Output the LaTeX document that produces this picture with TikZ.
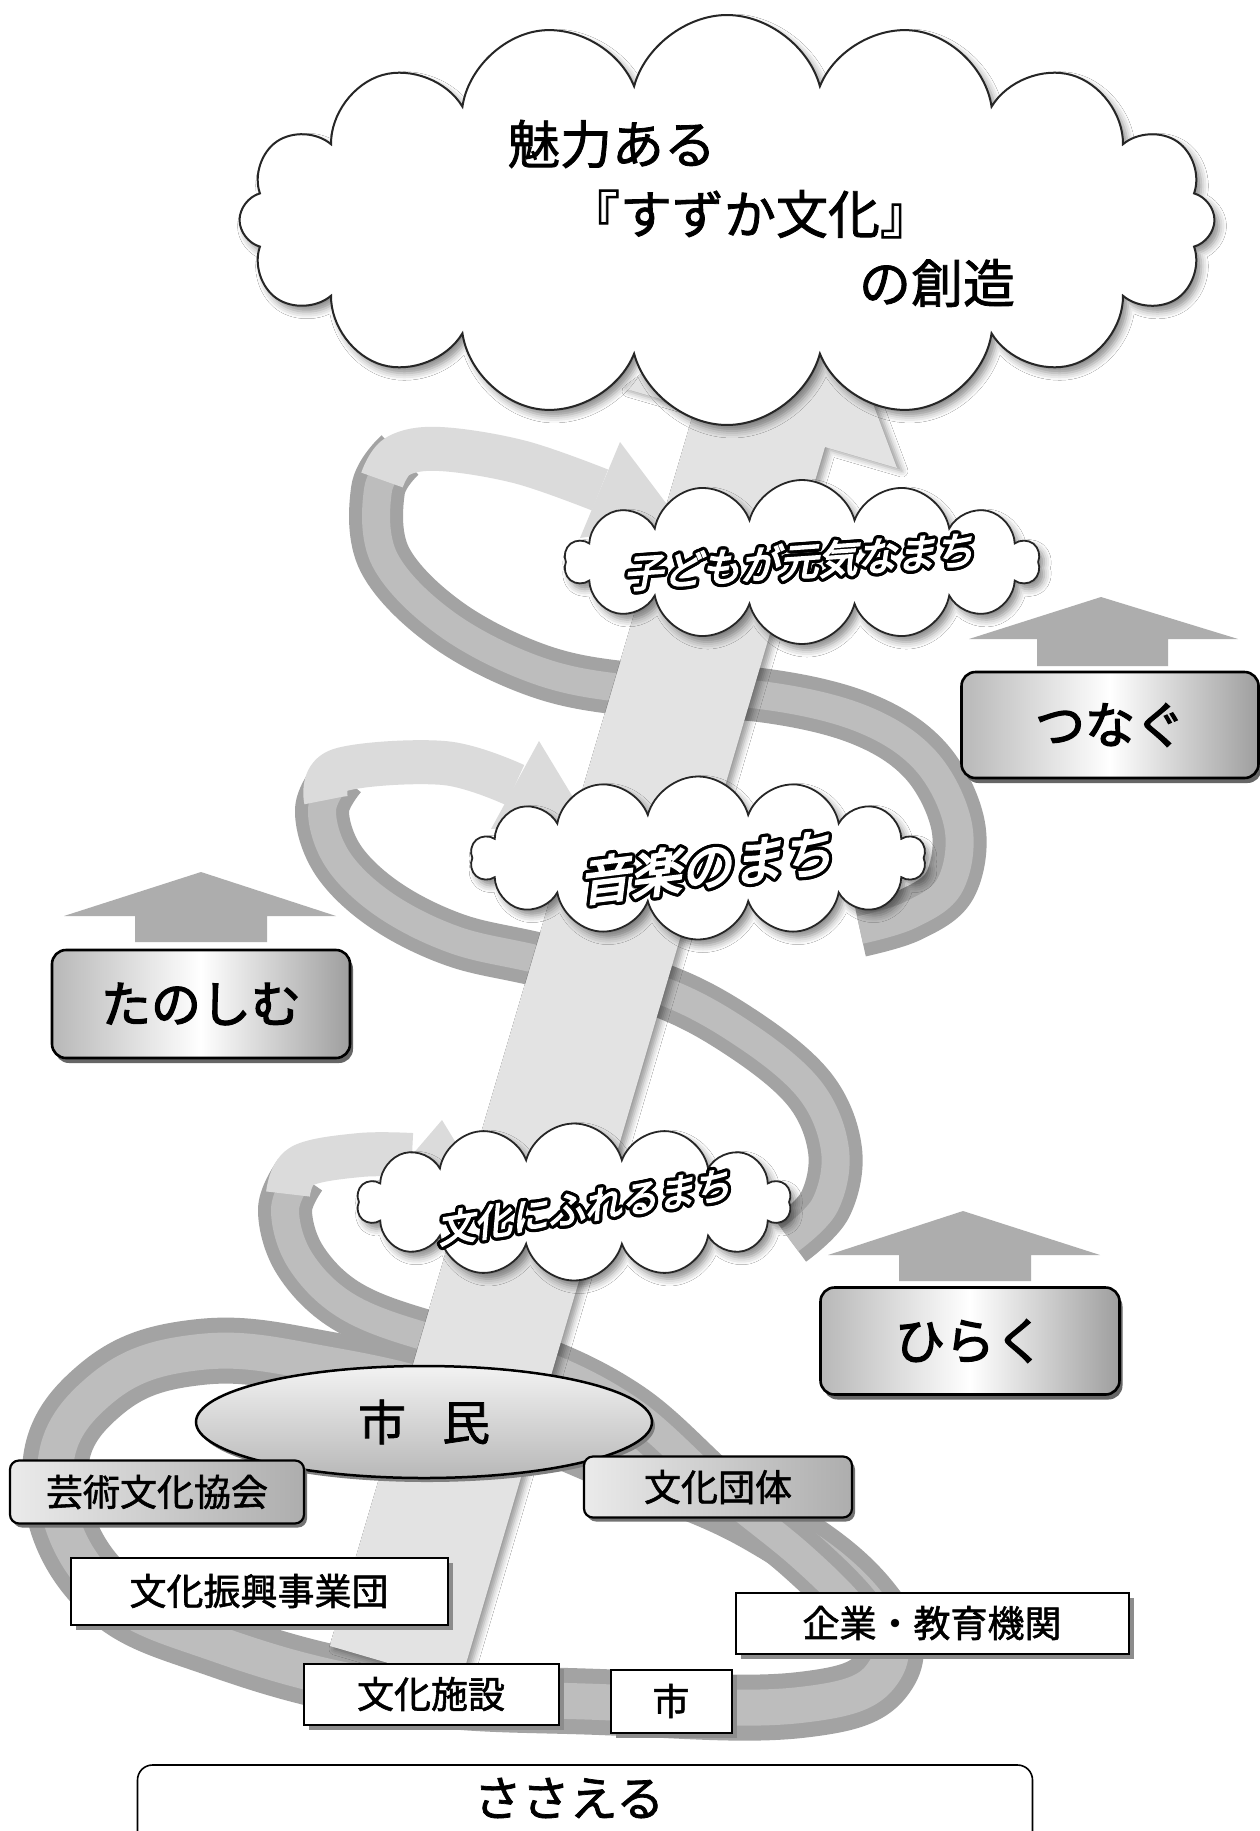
\documentclass[tikz,border=0pt]{standalone}
\usepackage{fontspec}
\setmainfont[FakeBold=1.5]{Noto Sans CJK JP}
\newfontfamily\jpheavy[FakeBold=4]{Noto Sans CJK JP}
\newfontfamily\jpbold[FakeBold=2.5]{Noto Sans CJK JP}
\usetikzlibrary{shapes.symbols,shapes.geometric,shadows,shadows.blur,calc}
\tikzset{
  fsz/.style={font=\fontsize{#1}{#1}\selectfont},
  bfsz/.style={font=\jpbold\fontsize{#1}{#1}\selectfont},
  hfsz/.style={font=\jpheavy\fontsize{#1}{#1}\selectfont},
  darkrib/.style={line width=54pt, draw=black!36, line join=round},
  darkcore/.style={line width=28pt, draw=black!26, line join=round},
  lightrib/.style={line width=44pt, draw=black!14, line join=round},
  headfill/.style={fill=black!14},
  cloudbox/.style={cloud, cloud ignores aspect, draw=black!85, line width=1.8pt, fill=white,
     blur shadow={shadow xshift=5pt, shadow yshift=-6pt, shadow blur radius=7pt, shadow opacity=45}},
  gbox/.style={draw=black, line width=2.6pt, rounded corners=14pt, left color=black!28, right color=black!38, middle color=white,
     drop shadow={shadow xshift=3pt, shadow yshift=-5pt, fill=black!60, opacity=1}},
  sbox/.style={draw=black, line width=2.2pt, rounded corners=9pt, left color=black!8, right color=black!32,
     drop shadow={shadow xshift=3pt, shadow yshift=-4pt, fill=black!55, opacity=1}},
  wbox/.style={draw=black, line width=2pt, fill=white,
     drop shadow={shadow xshift=5pt, shadow yshift=-5pt, fill=black!45, opacity=1}},
  uparrow/.style={fill=black!32},
}
\newcommand\cloudtext[5]{%
  \foreach \a in {0,22.5,...,337.5}{%
    \node[rotate=#3, xslant=0.25, hfsz=#4, text=black] (#1-\a) at ($(#2)+(\a:3.2pt)$) {#5};
  }%
  \node[rotate=#3, xslant=0.25, hfsz=#4, text=white] (#1) at (#2) {#5};
}
\begin{document}
\begin{tikzpicture}[x=1pt,y=-1pt]
\path[use as bounding box] (0,0) rectangle (1260,1831);
\fill[white] (0,0) rectangle (1260,1831);

% bottom loop
\draw[darkrib, line width=66pt] plot[smooth cycle, tension=0.7] coordinates {(55,1475) (100,1390) (200,1352) (330,1365) (470,1400) (620,1460) (760,1520) (865,1600) (885,1670) (800,1705) (600,1702) (400,1690) (220,1645) (100,1585)};
\draw[darkcore, line width=36pt] plot[smooth cycle, tension=0.7] coordinates {(55,1475) (100,1390) (200,1352) (330,1365) (470,1400) (620,1460) (760,1520) (865,1600) (885,1670) (800,1705) (600,1702) (400,1690) (220,1645) (100,1585)};

% descending back bands
\draw[darkrib] plot[smooth, tension=0.6] coordinates {(300,1175) (285,1210) (300,1260) (345,1305) (420,1335) (530,1360) (630,1410) (720,1490) (800,1555) (855,1610) (875,1650)};
\draw[darkcore] plot[smooth, tension=0.6] coordinates {(300,1175) (285,1210) (300,1260) (345,1305) (420,1335) (530,1360) (630,1410) (720,1490) (800,1555) (855,1610) (875,1650)};
\draw[darkrib] plot[smooth, tension=0.6] coordinates {(340,775) (322,810) (338,860) (385,905) (455,940) (540,960) (660,990) (745,1035) (810,1090) (835,1150) (825,1205) (790,1240)};
\draw[darkcore] plot[smooth, tension=0.6] coordinates {(340,775) (322,810) (338,860) (385,905) (455,940) (540,960) (660,990) (745,1035) (810,1090) (835,1150) (825,1205) (790,1240)};
\draw[darkrib] plot[smooth, tension=0.6] coordinates {(400,455) (378,490) (385,560) (448,625) (542,672) (640,690) (760,695) (860,718) (925,760) (958,825) (950,885) (910,915) (860,930)};
\draw[darkcore] plot[smooth, tension=0.6] coordinates {(400,455) (378,490) (385,560) (448,625) (542,672) (640,690) (760,695) (860,718) (925,760) (958,825) (950,885) (910,915) (860,930)};

% central trunk arrow
\fill[black!11, blur shadow={shadow xshift=5pt, shadow yshift=-3pt, shadow blur radius=6pt, shadow opacity=40}]
  (330,1646) -- (695,409) -- (623,388) -- (814,246) -- (897,468) -- (825,447) -- (460,1684) -- cycle;

% front arrow ribbons
\draw[lightrib] plot[smooth, tension=0.6] coordinates {(382,480) (398,456) (440,449) (520,462) (600,490)};
\fill[headfill] (620,442) -- (681,523) -- (580,538) -- cycle;
\draw[lightrib] plot[smooth, tension=0.6] coordinates {(326,800) (340,770) (444,763) (515,785)};
\fill[headfill] (539,741) -- (591,827) -- (491,829) -- cycle;
\draw[lightrib] plot[smooth, tension=0.6] coordinates {(288,1194) (302,1166) (360,1155) (412,1155)};
\fill[headfill] (442,1120) -- (478,1179) -- (382,1190) -- cycle;

% small clouds
\node[cloudbox, cloud puffs=14, minimum width=475pt, minimum height=164pt] (c1) at (802,562) {};
\node[cloudbox, cloud puffs=14, minimum width=455pt, minimum height=163pt] (c2) at (698,858) {};
\node[cloudbox, cloud puffs=14, minimum width=434pt, minimum height=157pt] (c3) at (574,1202) {};
\cloudtext{t1}{802,561}{4}{39pt}{子どもが元気なまち}
\cloudtext{t2}{710,866}{7}{51pt}{音楽のまち}
\cloudtext{t3}{587,1206}{9}{37pt}{文化にふれるまち}

% big cloud
\node[cloudbox, cloud puffs=16, line width=2pt, minimum width=975pt, minimum height=410pt] (big) at (727,220) {};
\node[fsz=52pt] (m1) at (612,144) {魅力ある};
\node[fsz=52pt] (m2) at (750,214) {『すずか文化』};
\node[fsz=52pt] (m3) at (937,283) {の創造};

% gray up arrows
\fill[uparrow] (1101,597) -- (1238,639) -- (1168,639) -- (1168,666) -- (1037,666) -- (1037,639) -- (969,639) -- cycle;
\fill[uparrow] (201,872) -- (336,916) -- (267,916) -- (267,942) -- (135,942) -- (135,916) -- (64,916) -- cycle;
\fill[uparrow] (963,1211) -- (1100,1255) -- (1031,1255) -- (1031,1281) -- (899,1281) -- (899,1255) -- (828,1255) -- cycle;

% stage boxes
\node[gbox, minimum width=297pt, minimum height=106pt, bfsz=50pt] (tsunagu) at (1110,725) {つなぐ};
\node[gbox, minimum width=298pt, minimum height=108pt, bfsz=50pt] (tanoshimu) at (201,1004) {たのしむ};
\node[gbox, minimum width=299pt, minimum height=107pt, bfsz=50pt] (hiraku) at (970,1341) {ひらく};

% citizens and groups
\node[ellipse, draw=black, line width=2.5pt, minimum width=456pt, minimum height=112pt, top color=black!5, bottom color=black!28,
   drop shadow={shadow xshift=3pt, shadow yshift=-4pt, fill=black!50, opacity=1}, fsz=48pt] (shimin) at (424,1422) {市\hspace{36pt}民};
\node[sbox, minimum width=294pt, minimum height=63pt, fsz=37pt] (geijutsu) at (157,1492) {芸術文化協会};
\node[sbox, minimum width=268pt, minimum height=61pt, fsz=37pt] (dantai) at (718,1487) {文化団体};
\node[wbox, minimum width=377pt, minimum height=67pt, fsz=37pt] (shinko) at (259,1591) {文化振興事業団};
\node[wbox, minimum width=393pt, minimum height=61pt, fsz=37pt] (kigyo) at (932,1623) {企業・教育機関};
\node[wbox, minimum width=255pt, minimum height=61pt, fsz=37pt] (shisetsu) at (431,1694) {文化施設};
\node[wbox, minimum width=121pt, minimum height=63pt, fsz=37pt] (shi) at (671,1701) {市};

% base
\node[draw=black, line width=1.6pt, rounded corners=15pt, fill=white, minimum width=895pt, minimum height=100pt] (sasaebox) at (585,1815) {};
\node[fsz=48pt] (sasae) at (569,1798) {ささえる};
\end{tikzpicture}
\end{document}
